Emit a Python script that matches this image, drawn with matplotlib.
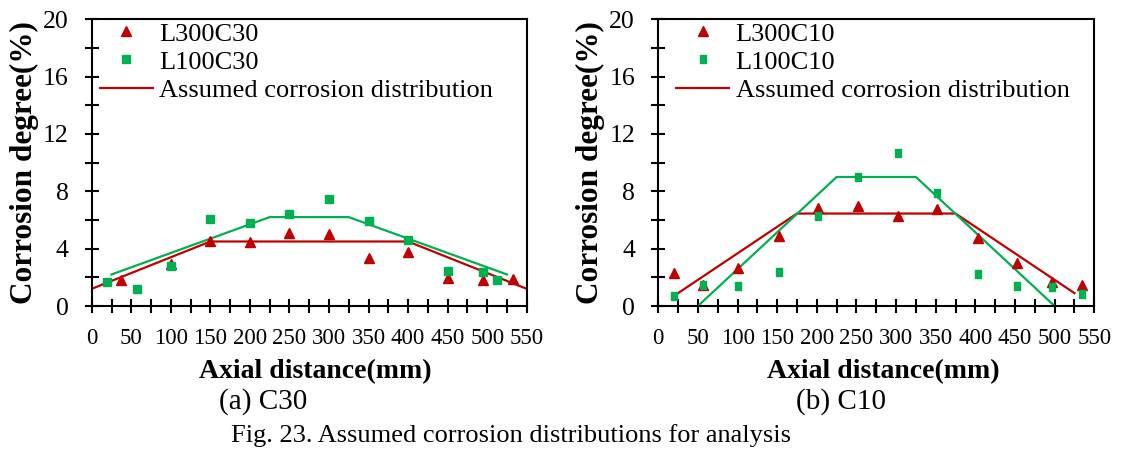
import numpy as np
import matplotlib
matplotlib.use('Agg')
import matplotlib.pyplot as plt
from matplotlib.ticker import MultipleLocator

plt.rcParams['font.family'] = ['Liberation Serif', 'DejaVu Serif']

RED = '#C00000'
GREEN = '#00B050'

# (a) C30 measurements
x_l300c30 = [37, 100, 150, 200, 250, 300, 350, 400, 450, 495, 533]
y_l300c30 = [1.8, 2.9, 4.5, 4.45, 5.1, 5.0, 3.35, 3.8, 1.95, 1.8, 1.9]
x_l100c30 = [19, 57, 100, 150, 200, 250, 300, 350, 400, 450, 495, 513]
y_l100c30 = [1.65, 1.2, 2.8, 6.05, 5.8, 6.4, 7.45, 5.9, 4.6, 2.45, 2.4, 1.8]
# assumed distributions (C30)
x_red_c30 = [0, 150, 400, 550]
y_red_c30 = [1.2, 4.5, 4.5, 1.2]
x_green_c30 = [25, 225, 325, 525]
y_green_c30 = [2.2, 6.2, 6.2, 2.2]

# (b) C10 measurements
x_l300c10 = [20, 57, 101, 152, 202, 252, 302, 352, 403, 453, 497, 535]
y_l300c10 = [2.3, 1.5, 2.65, 4.9, 6.85, 6.95, 6.25, 6.75, 4.75, 3.0, 1.65, 1.45]
x_l100c10 = [20, 57, 101, 152, 202, 252, 302, 352, 403, 453, 497, 535]
y_l100c10 = [0.7, 1.5, 1.4, 2.35, 6.25, 9.0, 10.65, 7.85, 2.2, 1.4, 1.35, 0.85]
# assumed distributions (C10)
x_red_c10 = [25, 175, 375, 525]
y_red_c10 = [0.9, 6.45, 6.45, 0.9]
x_green_c10 = [50, 225, 325, 500]
y_green_c10 = [0, 9, 9, 0]

x_ticks = list(range(0, 551, 50))
y_ticks = list(range(0, 21, 4))

# narrow upright rectangle used for the C10 squares
tall_rect = [(-0.35, -0.5), (0.35, -0.5), (0.35, 0.5), (-0.35, 0.5), (-0.35, -0.5)]

fig = plt.figure(figsize=(11.23, 4.51), dpi=100)
ax1 = fig.add_axes([0.0817, 0.3215, 0.3873, 0.6357])
ax2 = fig.add_axes([0.5862, 0.3215, 0.3882, 0.6357])

panels = [
    (ax1, x_l300c30, y_l300c30, x_l100c30, y_l100c30,
     x_red_c30, y_red_c30, x_green_c30, y_green_c30, 'L300C30', 'L100C30',
     's', 5.5, 0.019),
    (ax2, x_l300c10, y_l300c10, x_l100c10, y_l100c10,
     x_red_c10, y_red_c10, x_green_c10, y_green_c10, 'L300C10', 'L100C10',
     tall_rect, 5.5, 0.041),
]

for (ax, xr, yr, xg, yg, xlr, ylr, xlg, ylg, lab_r, lab_g, sq_mk, sq, leg_x) in panels:
    ax.plot(xlr, ylr, color=RED, lw=1.6, zorder=2)
    ax.plot(xlg, ylg, color=GREEN, lw=1.6, zorder=2)
    hr, = ax.plot(xr, yr, ls='none', marker='^', ms=7.5, color=RED, zorder=3)
    hg, = ax.plot(xg, yg, ls='none', marker=sq_mk, ms=sq, color=GREEN, zorder=4)
    hl, = ax.plot([], [], color=RED, lw=1.6)

    ax.set_xlim(0, 550)
    ax.set_ylim(0, 20)
    ax.set_xticks(x_ticks)
    ax.set_yticks(y_ticks)
    ax.xaxis.set_minor_locator(MultipleLocator(25))
    ax.yaxis.set_minor_locator(MultipleLocator(2))
    ax.tick_params(which='both', direction='inout', length=9.5, width=1.5,
                   top=False, right=False)
    ax.tick_params(axis='y', pad=12, labelsize=18.5)
    ax.tick_params(axis='x', pad=11, labelsize=16.5)
    for sp in ax.spines.values():
        sp.set_linewidth(1.5)

    ax.set_ylabel('Corrosion degree(%)', fontsize=22.5, fontweight='bold', va='center')
    ax.yaxis.set_label_coords(-0.155, 0.5)
    ax.set_xlabel('Axial distance(mm)', fontsize=20, fontweight='bold', va='center')
    ax.xaxis.set_label_coords(0.515, -0.229)

    ax.legend([hr, hg, hl], [lab_r, lab_g, 'Assumed corrosion distribution'],
              loc='upper left', bbox_to_anchor=(leg_x, 0.99), frameon=False,
              fontsize=19, numpoints=1, handlelength=2.0, handletextpad=0.25,
              labelspacing=0.175, borderpad=0, borderaxespad=0)

fig.text(0.234, 0.109, '(a) C30', fontsize=21, ha='center', va='center')
fig.text(0.749, 0.109, '(b) C10', fontsize=21, ha='center', va='center')
fig.text(0.455, 0.035, 'Fig. 23. Assumed corrosion distributions for analysis',
         fontsize=19, ha='center', va='center')

fig.savefig('out.png', dpi=100)
